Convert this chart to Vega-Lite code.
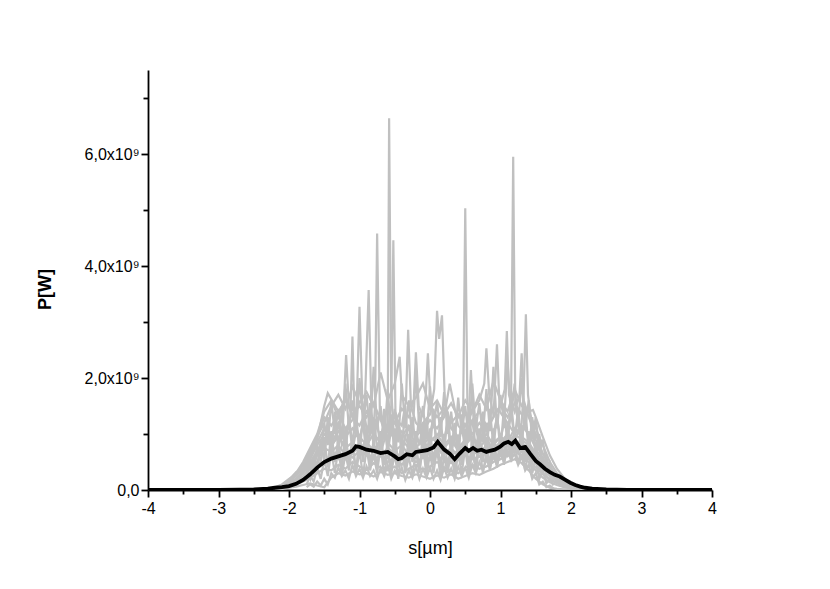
{
"$schema": "https://vega.github.io/schema/vega-lite/v6.json",
"width": 564, "height": 420,
"autosize": {"type": "none"},
"padding": {"left": 148, "top": 70, "right": 118, "bottom": 99},
"background": "white",
"config": {"view": {"stroke": null}, "font": "Liberation Sans"},
"datasets": {
"grey": [
{"t":1,"s":-2.2,"P":0.01},{"t":1,"s":-2.1,"P":0.02},{"t":1,"s":-2.0,"P":0.04},{"t":1,"s":-1.9,"P":0.06},{"t":1,"s":-1.8,"P":0.09},{"t":1,"s":-1.7,"P":0.12},{"t":1,"s":-1.6,"P":0.08},{"t":1,"s":-1.5,"P":0.05},{"t":1,"s":-1.4,"P":0.22},{"t":1,"s":-1.3,"P":0.3},{"t":1,"s":-1.2,"P":0.26},{"t":1,"s":-1.1,"P":0.33},{"t":1,"s":-1.0,"P":0.28},{"t":1,"s":-0.9,"P":0.3},{"t":1,"s":-0.8,"P":0.24},{"t":1,"s":-0.7,"P":0.32},{"t":1,"s":-0.6,"P":0.27},{"t":1,"s":-0.5,"P":0.3},{"t":1,"s":-0.4,"P":0.25},{"t":1,"s":-0.3,"P":0.22},{"t":1,"s":-0.2,"P":0.28},{"t":1,"s":-0.1,"P":0.24},{"t":1,"s":0.0,"P":0.2},{"t":1,"s":0.1,"P":0.26},{"t":1,"s":0.2,"P":0.22},{"t":1,"s":0.3,"P":0.28},{"t":1,"s":0.4,"P":0.2},{"t":1,"s":0.5,"P":0.25},{"t":1,"s":0.6,"P":0.3},{"t":1,"s":0.7,"P":0.27},{"t":1,"s":0.8,"P":0.33},{"t":1,"s":0.9,"P":0.38},{"t":1,"s":1.0,"P":0.45},{"t":1,"s":1.1,"P":0.5},{"t":1,"s":1.2,"P":0.55},{"t":1,"s":1.3,"P":0.48},{"t":1,"s":1.4,"P":0.35},{"t":1,"s":1.5,"P":0.2},{"t":1,"s":1.6,"P":0.1},{"t":1,"s":1.7,"P":0.04},{"t":1,"s":1.8,"P":0.02},{"t":1,"s":1.9,"P":0.01},{"t":1,"s":2.0,"P":0.01},{"t":1,"s":2.1,"P":0.0},{"t":1,"s":2.2,"P":0.0},
{"t":2,"s":-2.2,"P":0.02},{"t":2,"s":-2.1,"P":0.03},{"t":2,"s":-2.0,"P":0.06},{"t":2,"s":-1.9,"P":0.1},{"t":2,"s":-1.8,"P":0.15},{"t":2,"s":-1.7,"P":0.22},{"t":2,"s":-1.6,"P":0.3},{"t":2,"s":-1.5,"P":0.38},{"t":2,"s":-1.4,"P":0.35},{"t":2,"s":-1.3,"P":0.45},{"t":2,"s":-1.2,"P":0.38},{"t":2,"s":-1.1,"P":0.5},{"t":2,"s":-1.0,"P":0.42},{"t":2,"s":-0.9,"P":0.36},{"t":2,"s":-0.8,"P":0.48},{"t":2,"s":-0.7,"P":0.4},{"t":2,"s":-0.6,"P":0.35},{"t":2,"s":-0.5,"P":0.42},{"t":2,"s":-0.4,"P":0.3},{"t":2,"s":-0.3,"P":0.38},{"t":2,"s":-0.2,"P":0.45},{"t":2,"s":-0.1,"P":0.36},{"t":2,"s":0.0,"P":0.42},{"t":2,"s":0.1,"P":0.5},{"t":2,"s":0.2,"P":0.4},{"t":2,"s":0.3,"P":0.35},{"t":2,"s":0.4,"P":0.3},{"t":2,"s":0.5,"P":0.4},{"t":2,"s":0.6,"P":0.45},{"t":2,"s":0.7,"P":0.38},{"t":2,"s":0.8,"P":0.42},{"t":2,"s":0.9,"P":0.5},{"t":2,"s":1.0,"P":0.55},{"t":2,"s":1.1,"P":0.62},{"t":2,"s":1.2,"P":0.7},{"t":2,"s":1.3,"P":0.6},{"t":2,"s":1.4,"P":0.5},{"t":2,"s":1.5,"P":0.35},{"t":2,"s":1.6,"P":0.22},{"t":2,"s":1.7,"P":0.14},{"t":2,"s":1.8,"P":0.09},{"t":2,"s":1.9,"P":0.05},{"t":2,"s":2.0,"P":0.03},{"t":2,"s":2.1,"P":0.02},{"t":2,"s":2.2,"P":0.01},
{"t":3,"s":-2.2,"P":0.02},{"t":3,"s":-2.1,"P":0.04},{"t":3,"s":-2.0,"P":0.08},{"t":3,"s":-1.9,"P":0.13},{"t":3,"s":-1.8,"P":0.2},{"t":3,"s":-1.7,"P":0.3},{"t":3,"s":-1.6,"P":0.4},{"t":3,"s":-1.5,"P":0.52},{"t":3,"s":-1.4,"P":0.6},{"t":3,"s":-1.3,"P":0.55},{"t":3,"s":-1.2,"P":0.68},{"t":3,"s":-1.1,"P":0.58},{"t":3,"s":-1.0,"P":0.7},{"t":3,"s":-0.9,"P":0.62},{"t":3,"s":-0.8,"P":0.8},{"t":3,"s":-0.7,"P":0.66},{"t":3,"s":-0.6,"P":1.1},{"t":3,"s":-0.58,"P":6.64},{"t":3,"s":-0.55,"P":1.8},{"t":3,"s":-0.5,"P":0.7},{"t":3,"s":-0.4,"P":0.55},{"t":3,"s":-0.3,"P":0.62},{"t":3,"s":-0.2,"P":0.5},{"t":3,"s":-0.1,"P":0.58},{"t":3,"s":0.0,"P":0.66},{"t":3,"s":0.1,"P":0.6},{"t":3,"s":0.2,"P":0.55},{"t":3,"s":0.3,"P":0.48},{"t":3,"s":0.4,"P":0.56},{"t":3,"s":0.5,"P":0.62},{"t":3,"s":0.6,"P":0.55},{"t":3,"s":0.7,"P":0.6},{"t":3,"s":0.8,"P":0.52},{"t":3,"s":0.9,"P":0.58},{"t":3,"s":1.0,"P":0.65},{"t":3,"s":1.1,"P":0.6},{"t":3,"s":1.2,"P":0.7},{"t":3,"s":1.3,"P":0.62},{"t":3,"s":1.4,"P":0.55},{"t":3,"s":1.5,"P":0.4},{"t":3,"s":1.6,"P":0.28},{"t":3,"s":1.7,"P":0.18},{"t":3,"s":1.8,"P":0.12},{"t":3,"s":1.9,"P":0.07},{"t":3,"s":2.0,"P":0.04},{"t":3,"s":2.1,"P":0.02},{"t":3,"s":2.2,"P":0.01},
{"t":4,"s":-2.2,"P":0.01},{"t":4,"s":-2.1,"P":0.03},{"t":4,"s":-2.0,"P":0.07},{"t":4,"s":-1.9,"P":0.15},{"t":4,"s":-1.8,"P":0.25},{"t":4,"s":-1.7,"P":0.38},{"t":4,"s":-1.6,"P":0.5},{"t":4,"s":-1.5,"P":0.45},{"t":4,"s":-1.4,"P":0.6},{"t":4,"s":-1.3,"P":0.7},{"t":4,"s":-1.2,"P":0.55},{"t":4,"s":-1.1,"P":0.65},{"t":4,"s":-1.0,"P":0.8},{"t":4,"s":-0.9,"P":0.68},{"t":4,"s":-0.8,"P":0.55},{"t":4,"s":-0.7,"P":0.62},{"t":4,"s":-0.6,"P":0.5},{"t":4,"s":-0.5,"P":0.58},{"t":4,"s":-0.4,"P":0.45},{"t":4,"s":-0.3,"P":0.6},{"t":4,"s":-0.2,"P":0.7},{"t":4,"s":-0.1,"P":0.62},{"t":4,"s":0.0,"P":0.55},{"t":4,"s":0.1,"P":0.75},{"t":4,"s":0.2,"P":0.6},{"t":4,"s":0.3,"P":0.5},{"t":4,"s":0.4,"P":0.58},{"t":4,"s":0.5,"P":0.65},{"t":4,"s":0.6,"P":0.72},{"t":4,"s":0.7,"P":0.6},{"t":4,"s":0.8,"P":0.68},{"t":4,"s":0.9,"P":0.75},{"t":4,"s":1.0,"P":0.7},{"t":4,"s":1.1,"P":0.9},{"t":4,"s":1.15,"P":1.6},{"t":4,"s":1.18,"P":5.95},{"t":4,"s":1.21,"P":1.5},{"t":4,"s":1.3,"P":0.85},{"t":4,"s":1.4,"P":0.7},{"t":4,"s":1.5,"P":0.5},{"t":4,"s":1.6,"P":0.3},{"t":4,"s":1.7,"P":0.2},{"t":4,"s":1.8,"P":0.13},{"t":4,"s":1.9,"P":0.08},{"t":4,"s":2.0,"P":0.05},{"t":4,"s":2.1,"P":0.03},{"t":4,"s":2.2,"P":0.01},
{"t":5,"s":-2.2,"P":0.02},{"t":5,"s":-2.1,"P":0.05},{"t":5,"s":-2.0,"P":0.1},{"t":5,"s":-1.9,"P":0.18},{"t":5,"s":-1.8,"P":0.3},{"t":5,"s":-1.7,"P":0.45},{"t":5,"s":-1.6,"P":0.62},{"t":5,"s":-1.5,"P":0.75},{"t":5,"s":-1.4,"P":0.68},{"t":5,"s":-1.3,"P":0.8},{"t":5,"s":-1.2,"P":0.62},{"t":5,"s":-1.1,"P":0.75},{"t":5,"s":-1.0,"P":0.68},{"t":5,"s":-0.9,"P":0.85},{"t":5,"s":-0.8,"P":0.7},{"t":5,"s":-0.7,"P":0.6},{"t":5,"s":-0.6,"P":0.75},{"t":5,"s":-0.5,"P":0.66},{"t":5,"s":-0.4,"P":0.55},{"t":5,"s":-0.3,"P":0.7},{"t":5,"s":-0.2,"P":0.78},{"t":5,"s":-0.1,"P":0.65},{"t":5,"s":0.0,"P":0.72},{"t":5,"s":0.1,"P":0.85},{"t":5,"s":0.2,"P":0.7},{"t":5,"s":0.3,"P":0.62},{"t":5,"s":0.4,"P":0.7},{"t":5,"s":0.47,"P":1.4},{"t":5,"s":0.5,"P":5.03},{"t":5,"s":0.53,"P":1.6},{"t":5,"s":0.6,"P":0.8},{"t":5,"s":0.7,"P":0.7},{"t":5,"s":0.8,"P":0.62},{"t":5,"s":0.9,"P":0.75},{"t":5,"s":1.0,"P":0.85},{"t":5,"s":1.1,"P":0.78},{"t":5,"s":1.2,"P":0.9},{"t":5,"s":1.3,"P":0.8},{"t":5,"s":1.4,"P":0.75},{"t":5,"s":1.5,"P":0.55},{"t":5,"s":1.6,"P":0.38},{"t":5,"s":1.7,"P":0.25},{"t":5,"s":1.8,"P":0.16},{"t":5,"s":1.9,"P":0.1},{"t":5,"s":2.0,"P":0.06},{"t":5,"s":2.1,"P":0.03},{"t":5,"s":2.2,"P":0.02},
{"t":6,"s":-2.2,"P":0.03},{"t":6,"s":-2.1,"P":0.06},{"t":6,"s":-2.0,"P":0.12},{"t":6,"s":-1.9,"P":0.2},{"t":6,"s":-1.8,"P":0.32},{"t":6,"s":-1.7,"P":0.5},{"t":6,"s":-1.6,"P":0.7},{"t":6,"s":-1.5,"P":0.9},{"t":6,"s":-1.4,"P":0.8},{"t":6,"s":-1.3,"P":0.95},{"t":6,"s":-1.2,"P":0.75},{"t":6,"s":-1.1,"P":0.85},{"t":6,"s":-1.0,"P":0.7},{"t":6,"s":-0.9,"P":0.9},{"t":6,"s":-0.8,"P":1.1},{"t":6,"s":-0.78,"P":1.5},{"t":6,"s":-0.75,"P":4.58},{"t":6,"s":-0.71,"P":1.3},{"t":6,"s":-0.6,"P":0.85},{"t":6,"s":-0.5,"P":0.7},{"t":6,"s":-0.4,"P":0.8},{"t":6,"s":-0.3,"P":0.62},{"t":6,"s":-0.2,"P":0.75},{"t":6,"s":-0.1,"P":0.9},{"t":6,"s":0.0,"P":0.7},{"t":6,"s":0.1,"P":0.8},{"t":6,"s":0.2,"P":0.65},{"t":6,"s":0.3,"P":0.75},{"t":6,"s":0.4,"P":0.6},{"t":6,"s":0.5,"P":0.8},{"t":6,"s":0.6,"P":0.95},{"t":6,"s":0.7,"P":0.75},{"t":6,"s":0.8,"P":0.9},{"t":6,"s":0.9,"P":0.7},{"t":6,"s":1.0,"P":0.85},{"t":6,"s":1.1,"P":1.0},{"t":6,"s":1.2,"P":0.85},{"t":6,"s":1.3,"P":1.2},{"t":6,"s":1.33,"P":1.8},{"t":6,"s":1.36,"P":3.14},{"t":6,"s":1.39,"P":1.7},{"t":6,"s":1.43,"P":1.3},{"t":6,"s":1.5,"P":0.9},{"t":6,"s":1.6,"P":0.55},{"t":6,"s":1.7,"P":0.35},{"t":6,"s":1.8,"P":0.22},{"t":6,"s":1.9,"P":0.13},{"t":6,"s":2.0,"P":0.08},{"t":6,"s":2.1,"P":0.04},{"t":6,"s":2.2,"P":0.02},
{"t":7,"s":-2.2,"P":0.02},{"t":7,"s":-2.1,"P":0.05},{"t":7,"s":-2.0,"P":0.1},{"t":7,"s":-1.9,"P":0.2},{"t":7,"s":-1.8,"P":0.35},{"t":7,"s":-1.7,"P":0.55},{"t":7,"s":-1.6,"P":0.8},{"t":7,"s":-1.5,"P":1.0},{"t":7,"s":-1.4,"P":0.85},{"t":7,"s":-1.3,"P":1.05},{"t":7,"s":-1.2,"P":0.9},{"t":7,"s":-1.13,"P":1.3},{"t":7,"s":-1.1,"P":2.74},{"t":7,"s":-1.07,"P":1.2},{"t":7,"s":-1.0,"P":0.95},{"t":7,"s":-0.9,"P":0.8},{"t":7,"s":-0.8,"P":1.0},{"t":7,"s":-0.7,"P":0.85},{"t":7,"s":-0.6,"P":1.05},{"t":7,"s":-0.55,"P":1.5},{"t":7,"s":-0.52,"P":4.46},{"t":7,"s":-0.49,"P":1.4},{"t":7,"s":-0.4,"P":0.9},{"t":7,"s":-0.3,"P":0.75},{"t":7,"s":-0.2,"P":0.9},{"t":7,"s":-0.1,"P":0.8},{"t":7,"s":0.0,"P":0.95},{"t":7,"s":0.1,"P":0.85},{"t":7,"s":0.2,"P":0.75},{"t":7,"s":0.3,"P":0.9},{"t":7,"s":0.4,"P":0.7},{"t":7,"s":0.5,"P":0.85},{"t":7,"s":0.6,"P":0.95},{"t":7,"s":0.7,"P":0.8},{"t":7,"s":0.8,"P":0.7},{"t":7,"s":0.9,"P":0.85},{"t":7,"s":1.0,"P":0.95},{"t":7,"s":1.1,"P":0.8},{"t":7,"s":1.2,"P":1.0},{"t":7,"s":1.3,"P":0.9},{"t":7,"s":1.4,"P":0.8},{"t":7,"s":1.5,"P":0.6},{"t":7,"s":1.6,"P":0.42},{"t":7,"s":1.7,"P":0.28},{"t":7,"s":1.8,"P":0.18},{"t":7,"s":1.9,"P":0.11},{"t":7,"s":2.0,"P":0.06},{"t":7,"s":2.1,"P":0.03},{"t":7,"s":2.2,"P":0.02},
{"t":8,"s":-2.2,"P":0.03},{"t":8,"s":-2.1,"P":0.06},{"t":8,"s":-2.0,"P":0.14},{"t":8,"s":-1.9,"P":0.25},{"t":8,"s":-1.8,"P":0.4},{"t":8,"s":-1.7,"P":0.6},{"t":8,"s":-1.6,"P":0.85},{"t":8,"s":-1.5,"P":1.1},{"t":8,"s":-1.4,"P":1.0},{"t":8,"s":-1.3,"P":1.2},{"t":8,"s":-1.2,"P":0.95},{"t":8,"s":-1.1,"P":1.1},{"t":8,"s":-1.0,"P":0.9},{"t":8,"s":-0.93,"P":1.3},{"t":8,"s":-0.87,"P":3.57},{"t":8,"s":-0.83,"P":1.4},{"t":8,"s":-0.8,"P":1.0},{"t":8,"s":-0.7,"P":0.85},{"t":8,"s":-0.6,"P":1.1},{"t":8,"s":-0.5,"P":0.9},{"t":8,"s":-0.4,"P":1.05},{"t":8,"s":-0.3,"P":0.8},{"t":8,"s":-0.2,"P":0.95},{"t":8,"s":-0.1,"P":1.1},{"t":8,"s":0.0,"P":0.85},{"t":8,"s":0.1,"P":1.0},{"t":8,"s":0.2,"P":0.8},{"t":8,"s":0.3,"P":0.95},{"t":8,"s":0.4,"P":0.75},{"t":8,"s":0.5,"P":0.9},{"t":8,"s":0.55,"P":1.3},{"t":8,"s":0.58,"P":2.14},{"t":8,"s":0.62,"P":1.2},{"t":8,"s":0.7,"P":0.85},{"t":8,"s":0.8,"P":1.0},{"t":8,"s":0.9,"P":0.8},{"t":8,"s":1.0,"P":0.95},{"t":8,"s":1.1,"P":0.85},{"t":8,"s":1.2,"P":1.1},{"t":8,"s":1.3,"P":0.95},{"t":8,"s":1.4,"P":0.85},{"t":8,"s":1.5,"P":0.65},{"t":8,"s":1.6,"P":0.45},{"t":8,"s":1.7,"P":0.3},{"t":8,"s":1.8,"P":0.2},{"t":8,"s":1.9,"P":0.12},{"t":8,"s":2.0,"P":0.07},{"t":8,"s":2.1,"P":0.04},{"t":8,"s":2.2,"P":0.02},
{"t":9,"s":-2.2,"P":0.03},{"t":9,"s":-2.1,"P":0.07},{"t":9,"s":-2.0,"P":0.15},{"t":9,"s":-1.9,"P":0.28},{"t":9,"s":-1.8,"P":0.45},{"t":9,"s":-1.7,"P":0.7},{"t":9,"s":-1.6,"P":0.95},{"t":9,"s":-1.5,"P":1.3},{"t":9,"s":-1.4,"P":1.15},{"t":9,"s":-1.3,"P":1.35},{"t":9,"s":-1.2,"P":1.1},{"t":9,"s":-1.1,"P":1.25},{"t":9,"s":-1.04,"P":1.5},{"t":9,"s":-1.0,"P":3.27},{"t":9,"s":-0.96,"P":1.6},{"t":9,"s":-0.9,"P":1.1},{"t":9,"s":-0.8,"P":1.25},{"t":9,"s":-0.7,"P":0.95},{"t":9,"s":-0.6,"P":1.1},{"t":9,"s":-0.5,"P":1.2},{"t":9,"s":-0.4,"P":0.95},{"t":9,"s":-0.3,"P":1.15},{"t":9,"s":-0.2,"P":1.0},{"t":9,"s":-0.1,"P":1.2},{"t":9,"s":0.0,"P":1.35},{"t":9,"s":0.06,"P":1.8},{"t":9,"s":0.1,"P":3.2},{"t":9,"s":0.13,"P":2.7},{"t":9,"s":0.17,"P":3.12},{"t":9,"s":0.21,"P":1.6},{"t":9,"s":0.3,"P":1.1},{"t":9,"s":0.4,"P":0.95},{"t":9,"s":0.5,"P":1.15},{"t":9,"s":0.6,"P":1.0},{"t":9,"s":0.7,"P":1.2},{"t":9,"s":0.8,"P":1.05},{"t":9,"s":0.9,"P":1.3},{"t":9,"s":0.95,"P":2.6},{"t":9,"s":0.99,"P":1.4},{"t":9,"s":1.1,"P":1.2},{"t":9,"s":1.2,"P":1.0},{"t":9,"s":1.3,"P":1.15},{"t":9,"s":1.4,"P":1.0},{"t":9,"s":1.5,"P":0.75},{"t":9,"s":1.6,"P":0.5},{"t":9,"s":1.7,"P":0.32},{"t":9,"s":1.8,"P":0.2},{"t":9,"s":1.9,"P":0.12},{"t":9,"s":2.0,"P":0.07},{"t":9,"s":2.1,"P":0.04},{"t":9,"s":2.2,"P":0.02},
{"t":10,"s":-2.2,"P":0.04},{"t":10,"s":-2.1,"P":0.08},{"t":10,"s":-2.0,"P":0.18},{"t":10,"s":-1.9,"P":0.3},{"t":10,"s":-1.8,"P":0.5},{"t":10,"s":-1.7,"P":0.75},{"t":10,"s":-1.6,"P":1.0},{"t":10,"s":-1.5,"P":1.4},{"t":10,"s":-1.4,"P":1.6},{"t":10,"s":-1.3,"P":1.3},{"t":10,"s":-1.22,"P":1.6},{"t":10,"s":-1.19,"P":2.41},{"t":10,"s":-1.15,"P":1.5},{"t":10,"s":-1.1,"P":1.3},{"t":10,"s":-1.0,"P":1.15},{"t":10,"s":-0.9,"P":1.4},{"t":10,"s":-0.8,"P":1.2},{"t":10,"s":-0.7,"P":1.35},{"t":10,"s":-0.6,"P":1.1},{"t":10,"s":-0.5,"P":1.3},{"t":10,"s":-0.4,"P":1.15},{"t":10,"s":-0.34,"P":1.6},{"t":10,"s":-0.31,"P":2.86},{"t":10,"s":-0.27,"P":1.5},{"t":10,"s":-0.2,"P":1.2},{"t":10,"s":-0.1,"P":1.05},{"t":10,"s":0.0,"P":1.25},{"t":10,"s":0.1,"P":1.1},{"t":10,"s":0.2,"P":1.3},{"t":10,"s":0.28,"P":1.9},{"t":10,"s":0.4,"P":1.15},{"t":10,"s":0.5,"P":1.0},{"t":10,"s":0.6,"P":1.25},{"t":10,"s":0.7,"P":1.4},{"t":10,"s":0.8,"P":1.15},{"t":10,"s":0.9,"P":1.3},{"t":10,"s":1.0,"P":1.5},{"t":10,"s":1.06,"P":1.8},{"t":10,"s":1.09,"P":2.84},{"t":10,"s":1.12,"P":1.7},{"t":10,"s":1.2,"P":1.4},{"t":10,"s":1.27,"P":1.7},{"t":10,"s":1.3,"P":2.44},{"t":10,"s":1.33,"P":1.6},{"t":10,"s":1.4,"P":1.3},{"t":10,"s":1.5,"P":1.0},{"t":10,"s":1.6,"P":0.65},{"t":10,"s":1.7,"P":0.42},{"t":10,"s":1.8,"P":0.26},{"t":10,"s":1.9,"P":0.15},{"t":10,"s":2.0,"P":0.08},{"t":10,"s":2.1,"P":0.04},{"t":10,"s":2.2,"P":0.02},
{"t":11,"s":-2.2,"P":0.04},{"t":11,"s":-2.1,"P":0.09},{"t":11,"s":-2.0,"P":0.18},{"t":11,"s":-1.9,"P":0.32},{"t":11,"s":-1.8,"P":0.38},{"t":11,"s":-1.7,"P":0.6},{"t":11,"s":-1.6,"P":0.9},{"t":11,"s":-1.5,"P":1.5},{"t":11,"s":-1.45,"P":1.73},{"t":11,"s":-1.3,"P":1.4},{"t":11,"s":-1.2,"P":1.6},{"t":11,"s":-1.1,"P":1.35},{"t":11,"s":-1.0,"P":1.5},{"t":11,"s":-0.9,"P":1.3},{"t":11,"s":-0.8,"P":1.55},{"t":11,"s":-0.7,"P":1.25},{"t":11,"s":-0.6,"P":1.4},{"t":11,"s":-0.5,"P":1.2},{"t":11,"s":-0.4,"P":1.45},{"t":11,"s":-0.3,"P":1.3},{"t":11,"s":-0.23,"P":1.6},{"t":11,"s":-0.2,"P":2.46},{"t":11,"s":-0.16,"P":1.5},{"t":11,"s":-0.1,"P":1.3},{"t":11,"s":-0.06,"P":1.7},{"t":11,"s":-0.03,"P":2.44},{"t":11,"s":0.01,"P":1.5},{"t":11,"s":0.1,"P":1.3},{"t":11,"s":0.2,"P":1.45},{"t":11,"s":0.3,"P":1.2},{"t":11,"s":0.4,"P":1.35},{"t":11,"s":0.5,"P":1.15},{"t":11,"s":0.6,"P":1.4},{"t":11,"s":0.7,"P":1.6},{"t":11,"s":0.77,"P":1.9},{"t":11,"s":0.8,"P":2.53},{"t":11,"s":0.84,"P":1.7},{"t":11,"s":0.9,"P":1.35},{"t":11,"s":1.0,"P":1.5},{"t":11,"s":1.1,"P":1.3},{"t":11,"s":1.2,"P":1.55},{"t":11,"s":1.3,"P":1.35},{"t":11,"s":1.46,"P":1.43},{"t":11,"s":1.5,"P":1.3},{"t":11,"s":1.6,"P":0.95},{"t":11,"s":1.7,"P":0.62},{"t":11,"s":1.8,"P":0.38},{"t":11,"s":1.9,"P":0.22},{"t":11,"s":2.0,"P":0.1},{"t":11,"s":2.1,"P":0.05},{"t":11,"s":2.2,"P":0.02},
{"t":12,"s":-2.2,"P":0.05},{"t":12,"s":-2.1,"P":0.1},{"t":12,"s":-2.0,"P":0.2},{"t":12,"s":-1.9,"P":0.28},{"t":12,"s":-1.8,"P":0.45},{"t":12,"s":-1.7,"P":0.65},{"t":12,"s":-1.6,"P":0.95},{"t":12,"s":-1.5,"P":1.2},{"t":12,"s":-1.4,"P":1.5},{"t":12,"s":-1.3,"P":1.7},{"t":12,"s":-1.2,"P":1.45},{"t":12,"s":-1.1,"P":1.85},{"t":12,"s":-1.0,"P":1.55},{"t":12,"s":-0.9,"P":1.75},{"t":12,"s":-0.8,"P":1.5},{"t":12,"s":-0.7,"P":2.1},{"t":12,"s":-0.6,"P":1.6},{"t":12,"s":-0.5,"P":1.9},{"t":12,"s":-0.43,"P":2.38},{"t":12,"s":-0.4,"P":1.7},{"t":12,"s":-0.3,"P":1.5},{"t":12,"s":-0.2,"P":1.65},{"t":12,"s":-0.1,"P":1.9},{"t":12,"s":0.0,"P":1.45},{"t":12,"s":0.1,"P":1.6},{"t":12,"s":0.2,"P":1.35},{"t":12,"s":0.3,"P":1.55},{"t":12,"s":0.4,"P":1.3},{"t":12,"s":0.5,"P":1.6},{"t":12,"s":0.6,"P":1.4},{"t":12,"s":0.7,"P":1.7},{"t":12,"s":0.8,"P":1.45},{"t":12,"s":0.9,"P":1.95},{"t":12,"s":1.0,"P":1.6},{"t":12,"s":1.1,"P":1.4},{"t":12,"s":1.2,"P":1.8},{"t":12,"s":1.3,"P":1.5},{"t":12,"s":1.4,"P":1.4},{"t":12,"s":1.5,"P":1.1},{"t":12,"s":1.6,"P":0.8},{"t":12,"s":1.7,"P":0.5},{"t":12,"s":1.8,"P":0.3},{"t":12,"s":1.9,"P":0.18},{"t":12,"s":2.0,"P":0.09},{"t":12,"s":2.1,"P":0.04},{"t":12,"s":2.2,"P":0.02},
{"t":13,"s":-1.75,"P":0.2},{"t":13,"s":-1.7,"P":0.45},{"t":13,"s":-1.65,"P":0.3},{"t":13,"s":-1.6,"P":0.7},{"t":13,"s":-1.55,"P":0.5},{"t":13,"s":-1.5,"P":0.95},{"t":13,"s":-1.45,"P":0.4},{"t":13,"s":-1.4,"P":1.05},{"t":13,"s":-1.35,"P":0.5},{"t":13,"s":-1.3,"P":0.9},{"t":13,"s":-1.25,"P":0.35},{"t":13,"s":-1.2,"P":1.1},{"t":13,"s":-1.15,"P":0.45},{"t":13,"s":-1.1,"P":0.95},{"t":13,"s":-1.05,"P":0.3},{"t":13,"s":-1.0,"P":1.0},{"t":13,"s":-0.95,"P":0.5},{"t":13,"s":-0.9,"P":1.15},{"t":13,"s":-0.85,"P":0.4},{"t":13,"s":-0.8,"P":0.9},{"t":13,"s":-0.75,"P":0.35},{"t":13,"s":-0.7,"P":1.05},{"t":13,"s":-0.65,"P":0.45},{"t":13,"s":-0.6,"P":0.85},{"t":13,"s":-0.55,"P":0.3},{"t":13,"s":-0.5,"P":1.1},{"t":13,"s":-0.45,"P":0.4},{"t":13,"s":-0.4,"P":0.95},{"t":13,"s":-0.35,"P":0.35},{"t":13,"s":-0.3,"P":1.0},{"t":13,"s":-0.25,"P":0.5},{"t":13,"s":-0.2,"P":0.9},{"t":13,"s":-0.15,"P":0.3},{"t":13,"s":-0.1,"P":1.05},{"t":13,"s":-0.05,"P":0.4},{"t":13,"s":0.0,"P":1.1},{"t":13,"s":0.05,"P":0.45},{"t":13,"s":0.1,"P":0.95},{"t":13,"s":0.15,"P":0.35},{"t":13,"s":0.2,"P":1.0},{"t":13,"s":0.25,"P":0.4},{"t":13,"s":0.3,"P":0.85},{"t":13,"s":0.35,"P":0.3},{"t":13,"s":0.4,"P":0.95},{"t":13,"s":0.45,"P":0.45},{"t":13,"s":0.5,"P":1.1},{"t":13,"s":0.55,"P":0.4},{"t":13,"s":0.6,"P":0.9},{"t":13,"s":0.65,"P":0.35},{"t":13,"s":0.7,"P":1.05},{"t":13,"s":0.75,"P":0.5},{"t":13,"s":0.8,"P":0.95},{"t":13,"s":0.85,"P":0.4},{"t":13,"s":0.9,"P":1.1},{"t":13,"s":0.95,"P":0.45},{"t":13,"s":1.0,"P":1.0},{"t":13,"s":1.05,"P":0.55},{"t":13,"s":1.1,"P":1.2},{"t":13,"s":1.15,"P":0.6},{"t":13,"s":1.2,"P":1.1},{"t":13,"s":1.25,"P":0.65},{"t":13,"s":1.3,"P":1.15},{"t":13,"s":1.35,"P":0.5},{"t":13,"s":1.4,"P":1.05},{"t":13,"s":1.45,"P":0.45},{"t":13,"s":1.5,"P":0.85},{"t":13,"s":1.55,"P":0.35},{"t":13,"s":1.6,"P":0.6},{"t":13,"s":1.65,"P":0.25},{"t":13,"s":1.7,"P":0.4},{"t":13,"s":1.75,"P":0.15},
{"t":14,"s":-1.75,"P":0.35},{"t":14,"s":-1.7,"P":0.2},{"t":14,"s":-1.65,"P":0.6},{"t":14,"s":-1.6,"P":0.35},{"t":14,"s":-1.55,"P":0.9},{"t":14,"s":-1.5,"P":0.5},{"t":14,"s":-1.45,"P":1.3},{"t":14,"s":-1.4,"P":0.6},{"t":14,"s":-1.35,"P":1.4},{"t":14,"s":-1.3,"P":0.7},{"t":14,"s":-1.25,"P":1.5},{"t":14,"s":-1.2,"P":0.65},{"t":14,"s":-1.15,"P":1.3},{"t":14,"s":-1.1,"P":0.8},{"t":14,"s":-1.05,"P":1.45},{"t":14,"s":-1.0,"P":0.6},{"t":14,"s":-0.95,"P":1.35},{"t":14,"s":-0.9,"P":0.7},{"t":14,"s":-0.85,"P":1.55},{"t":14,"s":-0.8,"P":0.75},{"t":14,"s":-0.75,"P":1.3},{"t":14,"s":-0.7,"P":0.6},{"t":14,"s":-0.65,"P":1.45},{"t":14,"s":-0.6,"P":0.8},{"t":14,"s":-0.55,"P":1.35},{"t":14,"s":-0.5,"P":0.55},{"t":14,"s":-0.45,"P":1.25},{"t":14,"s":-0.4,"P":0.7},{"t":14,"s":-0.35,"P":1.5},{"t":14,"s":-0.3,"P":0.6},{"t":14,"s":-0.25,"P":1.3},{"t":14,"s":-0.2,"P":0.75},{"t":14,"s":-0.15,"P":1.4},{"t":14,"s":-0.1,"P":0.55},{"t":14,"s":-0.05,"P":1.25},{"t":14,"s":0.0,"P":0.7},{"t":14,"s":0.05,"P":1.45},{"t":14,"s":0.1,"P":0.65},{"t":14,"s":0.15,"P":1.3},{"t":14,"s":0.2,"P":0.6},{"t":14,"s":0.25,"P":1.4},{"t":14,"s":0.3,"P":0.7},{"t":14,"s":0.35,"P":1.2},{"t":14,"s":0.4,"P":0.55},{"t":14,"s":0.45,"P":1.35},{"t":14,"s":0.5,"P":0.75},{"t":14,"s":0.55,"P":1.5},{"t":14,"s":0.6,"P":0.65},{"t":14,"s":0.65,"P":1.3},{"t":14,"s":0.7,"P":0.8},{"t":14,"s":0.75,"P":1.4},{"t":14,"s":0.8,"P":0.6},{"t":14,"s":0.85,"P":1.45},{"t":14,"s":0.9,"P":0.75},{"t":14,"s":0.95,"P":1.35},{"t":14,"s":1.0,"P":0.7},{"t":14,"s":1.05,"P":1.5},{"t":14,"s":1.1,"P":0.8},{"t":14,"s":1.15,"P":1.6},{"t":14,"s":1.2,"P":0.9},{"t":14,"s":1.25,"P":1.45},{"t":14,"s":1.3,"P":0.75},{"t":14,"s":1.35,"P":1.5},{"t":14,"s":1.4,"P":0.7},{"t":14,"s":1.45,"P":1.3},{"t":14,"s":1.5,"P":0.55},{"t":14,"s":1.55,"P":1.0},{"t":14,"s":1.6,"P":0.4},{"t":14,"s":1.65,"P":0.6},{"t":14,"s":1.7,"P":0.25},{"t":14,"s":1.75,"P":0.2},
{"t":15,"s":-1.75,"P":0.1},{"t":15,"s":-1.7,"P":0.25},{"t":15,"s":-1.65,"P":0.15},{"t":15,"s":-1.6,"P":0.4},{"t":15,"s":-1.55,"P":0.2},{"t":15,"s":-1.5,"P":0.55},{"t":15,"s":-1.45,"P":0.25},{"t":15,"s":-1.4,"P":0.7},{"t":15,"s":-1.35,"P":0.3},{"t":15,"s":-1.3,"P":0.75},{"t":15,"s":-1.25,"P":0.25},{"t":15,"s":-1.2,"P":0.65},{"t":15,"s":-1.15,"P":0.35},{"t":15,"s":-1.1,"P":0.8},{"t":15,"s":-1.05,"P":0.3},{"t":15,"s":-1.0,"P":0.7},{"t":15,"s":-0.95,"P":0.25},{"t":15,"s":-0.9,"P":0.75},{"t":15,"s":-0.85,"P":0.35},{"t":15,"s":-0.8,"P":0.65},{"t":15,"s":-0.75,"P":0.3},{"t":15,"s":-0.7,"P":0.8},{"t":15,"s":-0.65,"P":0.25},{"t":15,"s":-0.6,"P":0.7},{"t":15,"s":-0.55,"P":0.3},{"t":15,"s":-0.5,"P":0.65},{"t":15,"s":-0.45,"P":0.2},{"t":15,"s":-0.4,"P":0.75},{"t":15,"s":-0.35,"P":0.3},{"t":15,"s":-0.3,"P":0.6},{"t":15,"s":-0.25,"P":0.25},{"t":15,"s":-0.2,"P":0.7},{"t":15,"s":-0.15,"P":0.3},{"t":15,"s":-0.1,"P":0.8},{"t":15,"s":-0.05,"P":0.25},{"t":15,"s":0.0,"P":0.65},{"t":15,"s":0.05,"P":0.3},{"t":15,"s":0.1,"P":0.75},{"t":15,"s":0.15,"P":0.2},{"t":15,"s":0.2,"P":0.6},{"t":15,"s":0.25,"P":0.3},{"t":15,"s":0.3,"P":0.7},{"t":15,"s":0.35,"P":0.25},{"t":15,"s":0.4,"P":0.65},{"t":15,"s":0.45,"P":0.3},{"t":15,"s":0.5,"P":0.75},{"t":15,"s":0.55,"P":0.25},{"t":15,"s":0.6,"P":0.7},{"t":15,"s":0.65,"P":0.35},{"t":15,"s":0.7,"P":0.8},{"t":15,"s":0.75,"P":0.3},{"t":15,"s":0.8,"P":0.65},{"t":15,"s":0.85,"P":0.35},{"t":15,"s":0.9,"P":0.75},{"t":15,"s":0.95,"P":0.4},{"t":15,"s":1.0,"P":0.85},{"t":15,"s":1.05,"P":0.45},{"t":15,"s":1.1,"P":0.9},{"t":15,"s":1.15,"P":0.5},{"t":15,"s":1.2,"P":0.85},{"t":15,"s":1.25,"P":0.45},{"t":15,"s":1.3,"P":0.8},{"t":15,"s":1.35,"P":0.35},{"t":15,"s":1.4,"P":0.7},{"t":15,"s":1.45,"P":0.3},{"t":15,"s":1.5,"P":0.55},{"t":15,"s":1.55,"P":0.2},{"t":15,"s":1.6,"P":0.35},{"t":15,"s":1.65,"P":0.12},{"t":15,"s":1.7,"P":0.2},{"t":15,"s":1.75,"P":0.08},
{"t":16,"s":-1.75,"P":0.3},{"t":16,"s":-1.7,"P":0.55},{"t":16,"s":-1.65,"P":0.4},{"t":16,"s":-1.6,"P":0.8},{"t":16,"s":-1.55,"P":0.6},{"t":16,"s":-1.5,"P":1.2},{"t":16,"s":-1.45,"P":0.8},{"t":16,"s":-1.4,"P":1.6},{"t":16,"s":-1.35,"P":1.0},{"t":16,"s":-1.3,"P":1.45},{"t":16,"s":-1.25,"P":0.9},{"t":16,"s":-1.2,"P":1.9},{"t":16,"s":-1.15,"P":1.1},{"t":16,"s":-1.1,"P":1.6},{"t":16,"s":-1.05,"P":0.95},{"t":16,"s":-1.0,"P":2.0},{"t":16,"s":-0.95,"P":1.2},{"t":16,"s":-0.9,"P":1.7},{"t":16,"s":-0.85,"P":1.0},{"t":16,"s":-0.8,"P":2.2},{"t":16,"s":-0.75,"P":1.1},{"t":16,"s":-0.7,"P":1.5},{"t":16,"s":-0.65,"P":0.9},{"t":16,"s":-0.6,"P":1.8},{"t":16,"s":-0.55,"P":1.0},{"t":16,"s":-0.5,"P":1.45},{"t":16,"s":-0.45,"P":0.85},{"t":16,"s":-0.4,"P":1.9},{"t":16,"s":-0.35,"P":1.1},{"t":16,"s":-0.3,"P":1.6},{"t":16,"s":-0.25,"P":0.9},{"t":16,"s":-0.2,"P":2.1},{"t":16,"s":-0.15,"P":1.05},{"t":16,"s":-0.1,"P":1.5},{"t":16,"s":-0.05,"P":0.9},{"t":16,"s":0.0,"P":1.85},{"t":16,"s":0.05,"P":1.1},{"t":16,"s":0.1,"P":1.6},{"t":16,"s":0.15,"P":0.95},{"t":16,"s":0.2,"P":1.75},{"t":16,"s":0.25,"P":1.0},{"t":16,"s":0.3,"P":1.4},{"t":16,"s":0.35,"P":0.85},{"t":16,"s":0.4,"P":1.65},{"t":16,"s":0.45,"P":1.0},{"t":16,"s":0.5,"P":1.5},{"t":16,"s":0.55,"P":0.9},{"t":16,"s":0.6,"P":1.9},{"t":16,"s":0.65,"P":1.1},{"t":16,"s":0.7,"P":1.55},{"t":16,"s":0.75,"P":0.95},{"t":16,"s":0.8,"P":1.8},{"t":16,"s":0.85,"P":1.05},{"t":16,"s":0.9,"P":2.2},{"t":16,"s":0.95,"P":1.1},{"t":16,"s":1.0,"P":1.7},{"t":16,"s":1.05,"P":1.2},{"t":16,"s":1.1,"P":2.3},{"t":16,"s":1.15,"P":1.3},{"t":16,"s":1.2,"P":1.9},{"t":16,"s":1.25,"P":1.15},{"t":16,"s":1.3,"P":2.0},{"t":16,"s":1.35,"P":1.1},{"t":16,"s":1.4,"P":1.6},{"t":16,"s":1.45,"P":0.9},{"t":16,"s":1.5,"P":1.3},{"t":16,"s":1.55,"P":0.7},{"t":16,"s":1.6,"P":0.9},{"t":16,"s":1.65,"P":0.45},{"t":16,"s":1.7,"P":0.5},{"t":16,"s":1.75,"P":0.25},
{"t":17,"s":-1.75,"P":0.25},{"t":17,"s":-1.7,"P":0.3},{"t":17,"s":-1.65,"P":0.5},{"t":17,"s":-1.6,"P":0.45},{"t":17,"s":-1.55,"P":0.8},{"t":17,"s":-1.5,"P":0.7},{"t":17,"s":-1.45,"P":1.1},{"t":17,"s":-1.4,"P":0.75},{"t":17,"s":-1.35,"P":0.9},{"t":17,"s":-1.3,"P":1.2},{"t":17,"s":-1.25,"P":0.8},{"t":17,"s":-1.2,"P":0.95},{"t":17,"s":-1.15,"P":1.25},{"t":17,"s":-1.1,"P":0.7},{"t":17,"s":-1.05,"P":1.05},{"t":17,"s":-1.0,"P":0.85},{"t":17,"s":-0.95,"P":1.2},{"t":17,"s":-0.9,"P":0.6},{"t":17,"s":-0.85,"P":1.0},{"t":17,"s":-0.8,"P":1.3},{"t":17,"s":-0.75,"P":0.75},{"t":17,"s":-0.7,"P":0.95},{"t":17,"s":-0.65,"P":1.2},{"t":17,"s":-0.6,"P":0.65},{"t":17,"s":-0.55,"P":1.1},{"t":17,"s":-0.5,"P":0.9},{"t":17,"s":-0.45,"P":1.25},{"t":17,"s":-0.4,"P":0.6},{"t":17,"s":-0.35,"P":0.95},{"t":17,"s":-0.3,"P":1.15},{"t":17,"s":-0.25,"P":0.7},{"t":17,"s":-0.2,"P":1.05},{"t":17,"s":-0.15,"P":0.8},{"t":17,"s":-0.1,"P":1.2},{"t":17,"s":-0.05,"P":0.65},{"t":17,"s":0.0,"P":1.0},{"t":17,"s":0.05,"P":1.3},{"t":17,"s":0.1,"P":0.75},{"t":17,"s":0.15,"P":1.1},{"t":17,"s":0.2,"P":0.9},{"t":17,"s":0.25,"P":1.2},{"t":17,"s":0.3,"P":0.6},{"t":17,"s":0.35,"P":1.0},{"t":17,"s":0.4,"P":0.85},{"t":17,"s":0.45,"P":1.15},{"t":17,"s":0.5,"P":0.7},{"t":17,"s":0.55,"P":1.05},{"t":17,"s":0.6,"P":1.25},{"t":17,"s":0.65,"P":0.75},{"t":17,"s":0.7,"P":1.1},{"t":17,"s":0.75,"P":0.85},{"t":17,"s":0.8,"P":1.2},{"t":17,"s":0.85,"P":0.7},{"t":17,"s":0.9,"P":1.0},{"t":17,"s":0.95,"P":1.3},{"t":17,"s":1.0,"P":0.9},{"t":17,"s":1.05,"P":1.2},{"t":17,"s":1.1,"P":1.0},{"t":17,"s":1.15,"P":1.35},{"t":17,"s":1.2,"P":0.95},{"t":17,"s":1.25,"P":1.25},{"t":17,"s":1.3,"P":1.0},{"t":17,"s":1.35,"P":1.2},{"t":17,"s":1.4,"P":0.85},{"t":17,"s":1.45,"P":1.1},{"t":17,"s":1.5,"P":0.7},{"t":17,"s":1.55,"P":0.8},{"t":17,"s":1.6,"P":0.45},{"t":17,"s":1.65,"P":0.5},{"t":17,"s":1.7,"P":0.3},{"t":17,"s":1.75,"P":0.2},
{"t":18,"s":-1.75,"P":0.05},{"t":18,"s":-1.7,"P":0.1},{"t":18,"s":-1.65,"P":0.06},{"t":18,"s":-1.6,"P":0.15},{"t":18,"s":-1.55,"P":0.08},{"t":18,"s":-1.5,"P":0.2},{"t":18,"s":-1.45,"P":0.1},{"t":18,"s":-1.4,"P":0.3},{"t":18,"s":-1.35,"P":0.22},{"t":18,"s":-1.3,"P":0.4},{"t":18,"s":-1.25,"P":0.25},{"t":18,"s":-1.2,"P":0.35},{"t":18,"s":-1.15,"P":0.2},{"t":18,"s":-1.1,"P":0.45},{"t":18,"s":-1.05,"P":0.25},{"t":18,"s":-1.0,"P":0.38},{"t":18,"s":-0.95,"P":0.22},{"t":18,"s":-0.9,"P":0.42},{"t":18,"s":-0.85,"P":0.25},{"t":18,"s":-0.8,"P":0.35},{"t":18,"s":-0.75,"P":0.2},{"t":18,"s":-0.7,"P":0.4},{"t":18,"s":-0.65,"P":0.25},{"t":18,"s":-0.6,"P":0.45},{"t":18,"s":-0.55,"P":0.2},{"t":18,"s":-0.5,"P":0.35},{"t":18,"s":-0.45,"P":0.25},{"t":18,"s":-0.4,"P":0.4},{"t":18,"s":-0.35,"P":0.18},{"t":18,"s":-0.3,"P":0.35},{"t":18,"s":-0.25,"P":0.22},{"t":18,"s":-0.2,"P":0.42},{"t":18,"s":-0.15,"P":0.2},{"t":18,"s":-0.1,"P":0.38},{"t":18,"s":-0.05,"P":0.22},{"t":18,"s":0.0,"P":0.4},{"t":18,"s":0.05,"P":0.2},{"t":18,"s":0.1,"P":0.35},{"t":18,"s":0.15,"P":0.18},{"t":18,"s":0.2,"P":0.4},{"t":18,"s":0.25,"P":0.22},{"t":18,"s":0.3,"P":0.38},{"t":18,"s":0.35,"P":0.2},{"t":18,"s":0.4,"P":0.42},{"t":18,"s":0.45,"P":0.25},{"t":18,"s":0.5,"P":0.4},{"t":18,"s":0.55,"P":0.22},{"t":18,"s":0.6,"P":0.45},{"t":18,"s":0.65,"P":0.3},{"t":18,"s":0.7,"P":0.5},{"t":18,"s":0.75,"P":0.35},{"t":18,"s":0.8,"P":0.55},{"t":18,"s":0.85,"P":0.4},{"t":18,"s":0.9,"P":0.6},{"t":18,"s":0.95,"P":0.45},{"t":18,"s":1.0,"P":0.65},{"t":18,"s":1.05,"P":0.5},{"t":18,"s":1.1,"P":0.7},{"t":18,"s":1.15,"P":0.55},{"t":18,"s":1.2,"P":0.65},{"t":18,"s":1.25,"P":0.45},{"t":18,"s":1.3,"P":0.6},{"t":18,"s":1.35,"P":0.35},{"t":18,"s":1.4,"P":0.45},{"t":18,"s":1.45,"P":0.2},{"t":18,"s":1.5,"P":0.3},{"t":18,"s":1.55,"P":0.1},{"t":18,"s":1.6,"P":0.15},{"t":18,"s":1.65,"P":0.05},{"t":18,"s":1.7,"P":0.08},{"t":18,"s":1.75,"P":0.03}
],
"mean": [
{"s":-4,"P":0},{"s":-3.5,"P":0},{"s":-3,"P":0.002},{"s":-2.7,"P":0.005},{"s":-2.5,"P":0.01},{"s":-2.3,"P":0.025},{"s":-2.2,"P":0.04},{"s":-2.1,"P":0.05},{"s":-2.0,"P":0.07},{"s":-1.9,"P":0.11},{"s":-1.8,"P":0.18},{"s":-1.7,"P":0.28},{"s":-1.6,"P":0.4},{"s":-1.5,"P":0.5},{"s":-1.4,"P":0.56},{"s":-1.3,"P":0.6},{"s":-1.2,"P":0.64},{"s":-1.1,"P":0.7},{"s":-1.05,"P":0.78},{"s":-1.0,"P":0.77},{"s":-0.9,"P":0.72},{"s":-0.8,"P":0.7},{"s":-0.7,"P":0.66},{"s":-0.6,"P":0.68},{"s":-0.5,"P":0.6},{"s":-0.45,"P":0.55},{"s":-0.4,"P":0.57},{"s":-0.33,"P":0.64},{"s":-0.25,"P":0.62},{"s":-0.2,"P":0.68},{"s":-0.1,"P":0.7},{"s":-0.04,"P":0.71},{"s":0.05,"P":0.76},{"s":0.11,"P":0.86},{"s":0.2,"P":0.72},{"s":0.28,"P":0.65},{"s":0.35,"P":0.55},{"s":0.42,"P":0.65},{"s":0.5,"P":0.75},{"s":0.55,"P":0.7},{"s":0.61,"P":0.75},{"s":0.67,"P":0.7},{"s":0.73,"P":0.72},{"s":0.8,"P":0.68},{"s":0.85,"P":0.7},{"s":0.92,"P":0.72},{"s":0.99,"P":0.77},{"s":1.05,"P":0.83},{"s":1.11,"P":0.86},{"s":1.16,"P":0.82},{"s":1.21,"P":0.88},{"s":1.28,"P":0.75},{"s":1.35,"P":0.77},{"s":1.42,"P":0.65},{"s":1.5,"P":0.52},{"s":1.56,"P":0.46},{"s":1.63,"P":0.38},{"s":1.7,"P":0.32},{"s":1.77,"P":0.27},{"s":1.84,"P":0.24},{"s":1.92,"P":0.18},{"s":1.99,"P":0.13},{"s":2.06,"P":0.09},{"s":2.13,"P":0.06},{"s":2.2,"P":0.04},{"s":2.3,"P":0.025},{"s":2.5,"P":0.01},{"s":2.8,"P":0.004},{"s":3,"P":0.002},{"s":3.5,"P":0},{"s":4,"P":0}
]
},
"encoding": {
"x": {"field": "s", "type": "quantitative",
 "scale": {"domain": [-4, 4], "nice": false, "zero": false},
 "axis": {"values": [-4,-3.5,-3,-2.5,-2,-1.5,-1,-0.5,0,0.5,1,1.5,2,2.5,3,3.5,4],
  "labelExpr": "datum.value % 1 == 0 ? '' + datum.value : ''",
  "tickSize": {"condition": {"test": "datum.value % 1 == 0", "value": 7}, "value": 4},
  "grid": false, "domainColor": "black", "domainWidth": 1.8, "tickColor": "black", "tickWidth": 1.8,
  "labelColor": "black", "labelFontSize": 16, "labelFont": "Liberation Sans", "labelPadding": 3, "labelFlush": false,
  "title": "s[µm]", "titleFont": "Liberation Sans", "titleFontSize": 18, "titleFontWeight": "normal", "titleColor": "black",
  "titleY": 58, "titleBaseline": "middle"}},
"y": {"field": "P", "type": "quantitative",
 "scale": {"domain": [0, 7.5], "nice": false},
 "axis": {"values": [0,1,2,3,4,5,6,7],
  "labelExpr": "datum.value == 0 ? '0,0' : (datum.value % 2 == 0 ? datum.value + ',0x10⁹' : '')",
  "tickSize": {"condition": {"test": "datum.value % 2 == 0", "value": 7}, "value": 5},
  "grid": false, "domainColor": "black", "domainWidth": 1.8, "tickColor": "black", "tickWidth": 1.8,
  "labelColor": "black", "labelFontSize": 16, "labelFont": "Liberation Sans", "labelPadding": 2, "labelFlush": false,
  "title": "P[W]", "titleFont": "Liberation Sans", "titleFontSize": 18, "titleFontWeight": "bold", "titleColor": "black",
  "titleX": -103, "titleY": 219, "titleBaseline": "middle", "titleAlign": "center", "titleAngle": -90}}
},
"layer": [
{"data": {"name": "grey"}, "mark": {"type": "line", "color": "#c0c0c0", "strokeWidth": 2.2, "clip": true},
 "encoding": {"detail": {"field": "t", "type": "nominal"}}},
{"data": {"name": "mean"}, "mark": {"type": "line", "color": "black", "strokeWidth": 3.8, "clip": true},
 "encoding": {}}
]
}
